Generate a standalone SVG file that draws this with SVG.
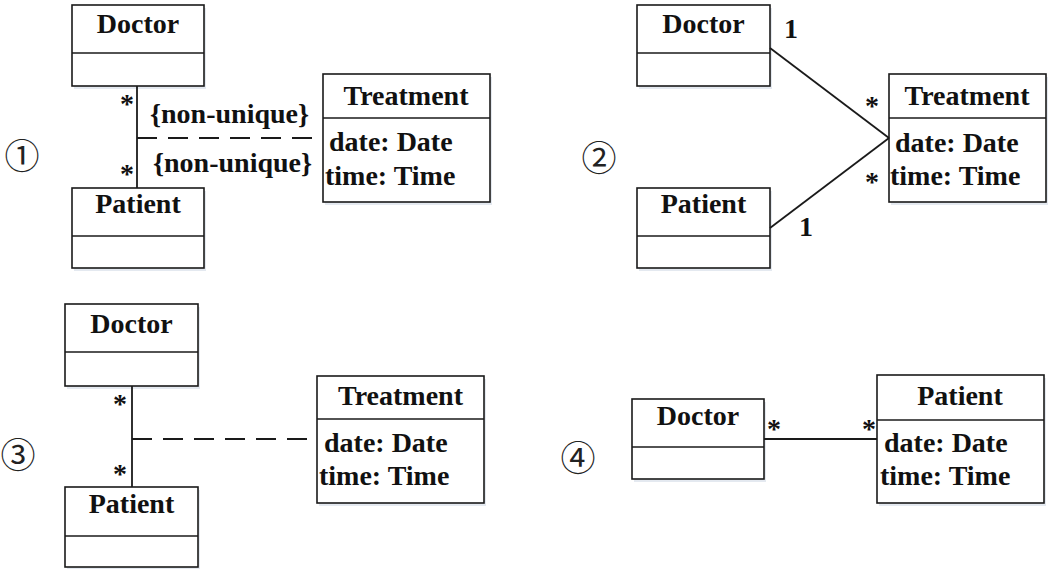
<svg xmlns="http://www.w3.org/2000/svg" width="1048" height="569" viewBox="0 0 1048 569">
<style>
  .box{fill:#fff;stroke:#1a1a1a;stroke-width:1.6}
  .sh{fill:#e4e9f0}
  .div{stroke:#1a1a1a;stroke-width:1.6}
  .t{font-family:'Liberation Serif','Times New Roman','DejaVu Serif',serif;font-weight:bold;font-size:28px;fill:#111}
  .c{text-anchor:middle}
  .num{font-family:'Noto Sans CJK SC','DejaVu Sans',sans-serif;font-size:35px;fill:#222;text-anchor:middle;dominant-baseline:central}
  .ln{stroke:#1a1a1a;stroke-width:1.8;fill:none}
  .dash{stroke-dasharray:20 11}
</style>
<rect width="1048" height="569" fill="#fff"/>

<!-- Panel 1 -->
<text class="num" x="22" y="153">①</text>
<g id="p1-doctor">
  <rect class="sh" x="74" y="8" width="132" height="81"/>
  <rect class="box" x="72" y="5" width="132" height="81"/>
  <line class="div" x1="72" y1="53" x2="204" y2="53"/>
  <text class="t c" x="138" y="33">Doctor</text>
</g>
<g id="p1-patient">
  <rect class="sh" x="74" y="191" width="132" height="80"/>
  <rect class="box" x="72" y="188" width="132" height="80"/>
  <line class="div" x1="72" y1="236" x2="204" y2="236"/>
  <text class="t c" x="138" y="213">Patient</text>
</g>
<g id="p1-treatment">
  <rect class="sh" x="325" y="77" width="167" height="128"/>
  <rect class="box" x="323" y="74" width="167" height="128"/>
  <line class="div" x1="323" y1="118" x2="490" y2="118"/>
  <text class="t c" x="406" y="105">Treatment</text>
  <text class="t" x="329" y="151">date: Date</text>
  <text class="t" x="325" y="185">time: Time</text>
</g>

<!-- Panel 2 -->
<text class="num" x="599" y="155">②</text>
<g id="p2-doctor">
  <rect class="sh" x="639" y="8" width="133" height="81"/>
  <rect class="box" x="637" y="5" width="133" height="81"/>
  <line class="div" x1="637" y1="53" x2="770" y2="53"/>
  <text class="t c" x="703.5" y="33">Doctor</text>
</g>
<g id="p2-patient">
  <rect class="sh" x="639" y="191" width="133" height="80"/>
  <rect class="box" x="637" y="188" width="133" height="80"/>
  <line class="div" x1="637" y1="236" x2="770" y2="236"/>
  <text class="t c" x="703.5" y="213">Patient</text>
</g>
<g id="p2-treatment">
  <rect class="sh" x="891" y="77" width="157" height="128"/>
  <rect class="box" x="889" y="74" width="157" height="128"/>
  <line class="div" x1="889" y1="118" x2="1046" y2="118"/>
  <text class="t c" x="967" y="105">Treatment</text>
  <text class="t" x="895" y="152">date: Date</text>
  <text class="t" x="890" y="185">time: Time</text>
</g>

<!-- Panel 3 -->
<text class="num" x="18" y="452">③</text>
<g id="p3-doctor">
  <rect class="sh" x="67" y="307" width="133" height="82"/>
  <rect class="box" x="65" y="304" width="133" height="82"/>
  <line class="div" x1="65" y1="352" x2="198" y2="352"/>
  <text class="t c" x="131.5" y="333">Doctor</text>
</g>
<g id="p3-patient">
  <rect class="sh" x="67" y="490" width="133" height="80"/>
  <rect class="box" x="65" y="487" width="133" height="80"/>
  <line class="div" x1="65" y1="536" x2="198" y2="536"/>
  <text class="t c" x="131.5" y="513">Patient</text>
</g>
<g id="p3-treatment">
  <rect class="sh" x="319" y="379" width="167" height="127"/>
  <rect class="box" x="317" y="376" width="167" height="127"/>
  <line class="div" x1="317" y1="419" x2="484" y2="419"/>
  <text class="t c" x="400.5" y="405">Treatment</text>
  <text class="t" x="324" y="452">date: Date</text>
  <text class="t" x="319" y="485">time: Time</text>
</g>

<!-- Panel 4 -->
<text class="num" x="578" y="455">④</text>
<g id="p4-doctor">
  <rect class="sh" x="634" y="402" width="132" height="80"/>
  <rect class="box" x="632" y="399" width="132" height="80"/>
  <line class="div" x1="632" y1="447" x2="764" y2="447"/>
  <text class="t c" x="698" y="425">Doctor</text>
</g>
<g id="p4-patient">
  <rect class="sh" x="879" y="378" width="167" height="128"/>
  <rect class="box" x="877" y="375" width="167" height="128"/>
  <line class="div" x1="877" y1="420" x2="1044" y2="420"/>
  <text class="t c" x="960" y="405">Patient</text>
  <text class="t" x="884" y="452">date: Date</text>
  <text class="t" x="880" y="485">time: Time</text>
</g>

<!-- Connectors -->
<g id="connectors">
  <line class="ln" x1="137" y1="86" x2="137" y2="188"/>
  <line class="ln dash" x1="137" y1="138" x2="323" y2="138"/>
  <line class="ln" x1="770" y1="48" x2="889" y2="138"/>
  <line class="ln" x1="770" y1="228" x2="889" y2="138"/>
  <line class="ln" x1="132" y1="386" x2="132" y2="487"/>
  <line class="ln dash" x1="132" y1="439" x2="317" y2="439"/>
  <line class="ln" x1="764" y1="439" x2="877" y2="439"/>
</g>

<!-- Connector labels -->
<g id="labels">
  <text class="t" x="120" y="113">*</text>
  <text class="t" x="120" y="183">*</text>
  <text class="t" x="150" y="123">{non-unique}</text>
  <text class="t" x="153" y="172">{non-unique}</text>
  <text class="t" x="784" y="38">1</text>
  <text class="t" x="799" y="236">1</text>
  <text class="t" x="865" y="115">*</text>
  <text class="t" x="865" y="191">*</text>
  <text class="t" x="113" y="413">*</text>
  <text class="t" x="113" y="483">*</text>
  <text class="t" x="767" y="438">*</text>
  <text class="t" x="862" y="438">*</text>
</g>
</svg>
